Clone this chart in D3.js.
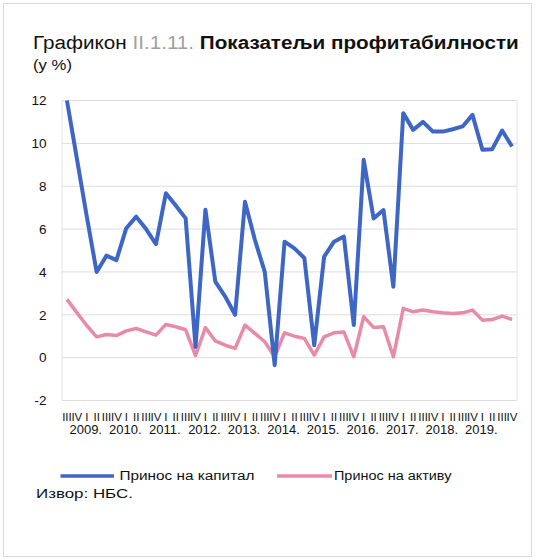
<!DOCTYPE html>
<html><head><meta charset="utf-8">
<script src="https://cdn.jsdelivr.net/npm/d3@7/dist/d3.min.js"></script>
<style>
html,body{margin:0;padding:0;background:#fff;}
svg{display:block;font-family:"Liberation Sans",Arial,sans-serif;}
</style></head>
<body><svg id="c" width="542" height="560"></svg>
<script>
// Quarters from 2008 Q3 to 2019 Q4
const quarters = ["III","IV",
 "I","II","III","IV","I","II","III","IV","I","II","III","IV","I","II","III","IV",
 "I","II","III","IV","I","II","III","IV","I","II","III","IV","I","II","III","IV",
 "I","II","III","IV","I","II","III","IV","I","II","III","IV"];
const years = ["2009.","2010.","2011.","2012.","2013.","2014.","2015.","2016.","2017.","2018.","2019."];
const roe = [12.0,9.3,
 6.6,4.0,4.76,4.55, 6.04,6.58,6.0,5.3, 7.67,7.1,6.5,0.5, 6.9,3.55,2.85,2.0,
 7.28,5.5,4.0,-0.35, 5.41,5.1,4.65,0.58, 4.71,5.41,5.65,1.52, 9.23,6.5,6.89,3.31,
 11.41,10.63,11.0,10.55, 10.55,10.66,10.79,11.33, 9.7,9.73,10.6,9.85];
const roa = [2.72,2.1,
 1.5,0.97,1.08,1.03, 1.25,1.36,1.2,1.05, 1.55,1.44,1.3,0.1, 1.4,0.78,0.58,0.43,
 1.52,1.13,0.74,0.04, 1.16,1.0,0.9,0.12, 0.97,1.16,1.2,0.04, 1.91,1.41,1.44,0.04,
 2.3,2.14,2.22,2.14, 2.09,2.06,2.09,2.22, 1.75,1.78,1.94,1.78];
const yTicks = [-2,0,2,4,6,8,10,12];
const seriesNames = ["Принос на капитал","Принос на активу"];
const colors = ["#3d66c5","#e88aa8"];

(function(){
const svg = d3.select("#c");
const pL = 62, pR = 517, pT = 100.5, pB = 400.5;
const idx = d3.range(quarters.length);
const x = d3.scaleBand().domain(idx).range([pL,pR]);
const cx = i => x(i) + x.bandwidth()/2;
const y = d3.scaleLinear().domain([-2,12]).range([pB,pT]);

// stretch a text horizontally to a given width starting at x0
function fit(sel, x0, width){
  const w = sel.node().getComputedTextLength();
  const s = width / w;
  sel.attr("transform",`translate(${x0},0) scale(${s},1) translate(${-x0},0)`);
}

// frame
svg.append("rect").attr("x",3.5).attr("y",3.5).attr("width",528).attr("height",553)
 .attr("fill","none").attr("stroke","#dadada");

// Title
const t = svg.append("text").attr("x",33).attr("y",49.5).attr("font-size",19).attr("fill","#111");
t.append("tspan").text("Графикон ");
t.append("tspan").attr("fill","#a0a0a0").text("II.1.11.");
t.append("tspan").attr("font-weight","bold").text(" Показатељи профитабилности");
fit(t,33,486);
const u = svg.append("text").attr("x",33).attr("y",70).attr("font-size",14).attr("fill","#111").text("(у %)");
fit(u,33,39);

// Grid
const g = svg.append("g");
g.selectAll("line").data(yTicks).join("line")
 .attr("x1",pL).attr("x2",pR).attr("y1",d=>y(d)).attr("y2",d=>y(d))
 .attr("stroke","#dcdcdc").attr("stroke-width",1);
svg.append("line").attr("x1",pL).attr("x2",pL).attr("y1",pT).attr("y2",pB).attr("stroke","#e4e4e4");
svg.append("line").attr("x1",pR).attr("x2",pR).attr("y1",pT).attr("y2",pB).attr("stroke","#e4e4e4");

// Y axis labels
const ya = svg.append("g").attr("transform",`translate(${46.5},0)`)
 .call(d3.axisLeft(y).tickValues(yTicks).tickSize(0).tickPadding(0).tickFormat(d=>String(d)));
ya.select(".domain").remove();
ya.selectAll("text").attr("font-size",13.5).attr("fill","#111").attr("font-family","Liberation Sans, Arial, sans-serif");

// X axis quarter labels
const xa = svg.append("g").attr("transform",`translate(0,${pB})`)
 .call(d3.axisBottom(x).tickSize(0).tickPadding(12.5).tickFormat(i=>quarters[i]));
xa.select(".domain").remove();
xa.selectAll("text").attr("font-size",11.5).attr("fill","#111").attr("font-family","Liberation Sans, Arial, sans-serif");

// Year labels under Q1
const q1 = idx.filter(i=>quarters[i]==="I");
svg.append("g").selectAll("text").data(q1).join("text")
 .attr("x",i=>cx(i)-1).attr("y",434).attr("text-anchor","middle")
 .attr("font-size",13).attr("fill","#111").text((d,k)=>years[k]);

// Lines
const line = d3.line().x((d,i)=>cx(i)).y(d=>y(d));
svg.append("path").datum(roa).attr("d",line).attr("fill","none")
 .attr("stroke",colors[1]).attr("stroke-width",3.5).attr("stroke-linejoin","round");
svg.append("path").datum(roe).attr("d",line).attr("fill","none")
 .attr("stroke",colors[0]).attr("stroke-width",4).attr("stroke-linejoin","round");

// Legend
const leg = [[60.5,114,119.5,135],[277,332,334,117.5]];
seriesNames.forEach((n,k)=>{
  svg.append("line").attr("x1",leg[k][0]).attr("x2",leg[k][1]).attr("y1",476).attr("y2",476)
   .attr("stroke",colors[k]).attr("stroke-width",3.5);
  const tx = svg.append("text").attr("x",leg[k][2]).attr("y",480.5).attr("font-size",13.5).attr("fill","#111").text(n);
  fit(tx,leg[k][2],leg[k][3]);
});

// Source
const s = svg.append("text").attr("x",36).attr("y",498).attr("font-size",13.5).attr("fill","#111").text("Извор: НБС.");
fit(s,36,97);
})();
</script></body></html>
